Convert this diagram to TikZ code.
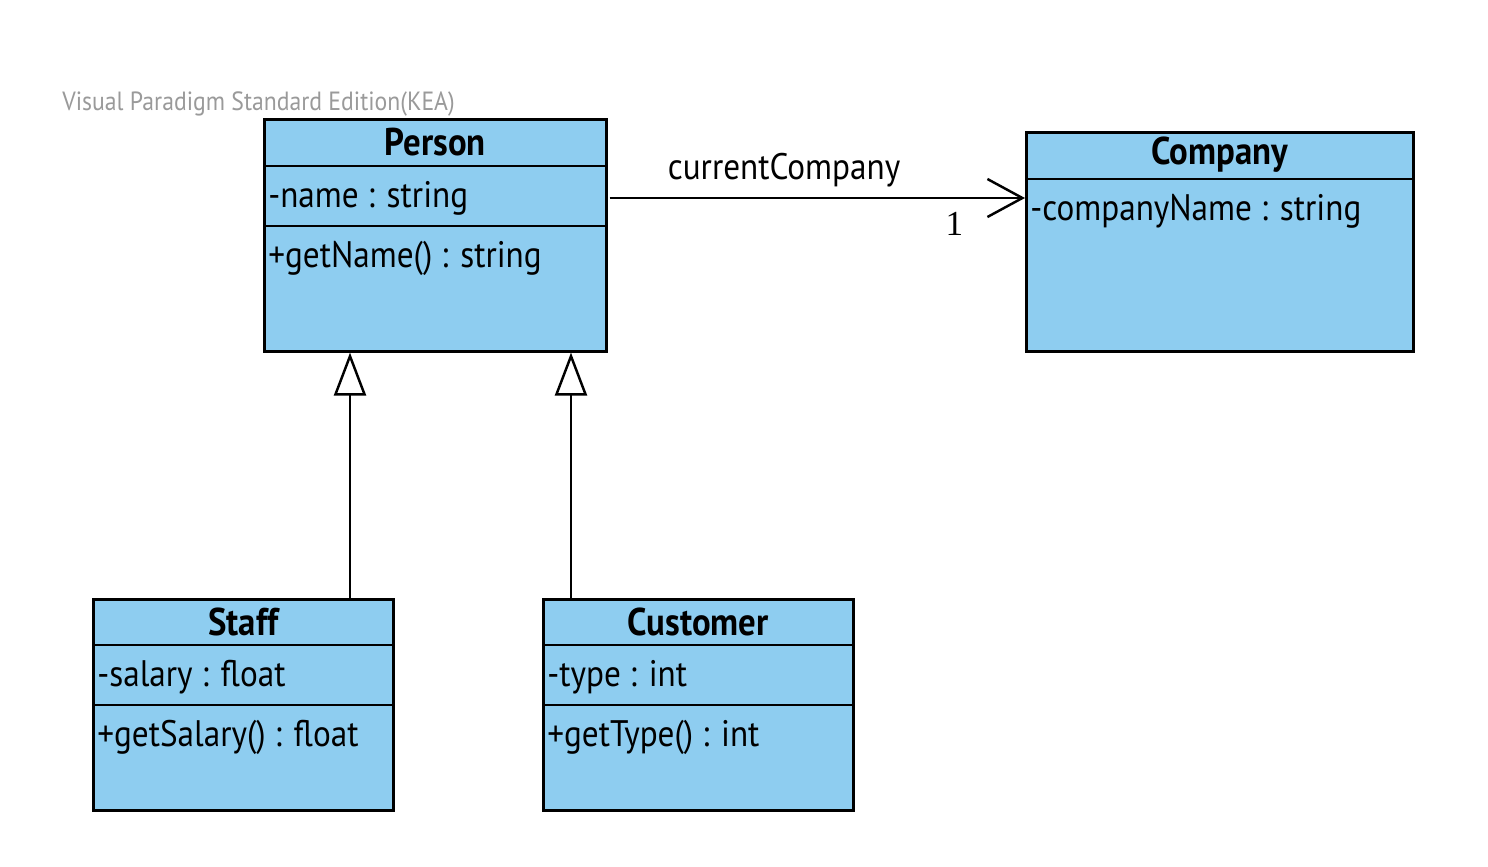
\documentclass[tikz,border=0pt]{standalone}
\usepackage{fontspec}
\setmainfont[FakeStretch=0.9]{PT Sans}
\newfontfamily\numfont{Liberation Serif}
\usetikzlibrary{arrows.meta, positioning, calc}
\definecolor{classfill}{HTML}{8ECDF0}
\definecolor{watermark}{HTML}{9A9A9A}
\tikzstyle{classbox} = [draw=black, line width=1.5pt, fill=classfill, anchor=north west, inner sep=0pt]
\tikzstyle{classname} = [font=\bfseries\fontsize{22}{24}\selectfont, text=black]
\tikzstyle{member} = [anchor=west, font=\fontsize{21}{23}\selectfont, text=black, inner sep=0pt]
\tikzstyle{divider} = [line width=1.5pt]
\tikzstyle{assoc} = [line width=1.4pt, -{Straight Barb[length=0.7cm, width=0.76cm, line width=1.4pt]}]
\tikzstyle{inherit} = [line width=1.2pt, -{Triangle[open, length=0.86cm, width=0.64cm, fill=white, line width=1.4pt]}]

\begin{document}
\begin{tikzpicture}[x=0.02cm, y=-0.02cm]
    \useasboundingbox[fill=white] (0,0) rectangle (1488,866);
    \node[anchor=west, font=\fontsize{15}{17}\selectfont, text=watermark, inner sep=0pt] (edition) at (62,104) {Visual Paradigm Standard Edition(KEA)};

    % Person
    \node[classbox, minimum width=6.84cm, minimum height=4.64cm] (person) at (263,118) {};
    \node[classname] (personname) at ($(person.north)+(0,24)$) {Person};
    \draw[divider] ($(person.north west)+(0,48)$) -- ($(person.north east)+(0,48)$);
    \draw[divider] ($(person.north west)+(0,108)$) -- ($(person.north east)+(0,108)$);
    \node[member] (personattr) at ($(person.north west)+(5,80)$) {-name : string};
    \node[member] (personop) at ($(person.north west)+(5,140)$) {+getName() : string};

    % Company
    \node[classbox, minimum width=7.74cm, minimum height=4.38cm] (company) at (1025,131) {};
    \node[classname] (companyname) at ($(company.north)+(0,24)$) {Company};
    \draw[divider] ($(company.north west)+(0,48)$) -- ($(company.north east)+(0,48)$);
    \node[member] (companyattr) at ($(company.north west)+(5,80)$) {-companyName : string};

    % Staff
    \node[classbox, minimum width=6cm, minimum height=4.22cm] (staff) at (92,598) {};
    \node[classname] (staffname) at ($(staff.north)+(0,24)$) {Staff};
    \draw[divider] ($(staff.north west)+(0,47)$) -- ($(staff.north east)+(0,47)$);
    \draw[divider] ($(staff.north west)+(0,107)$) -- ($(staff.north east)+(0,107)$);
    \node[member] (staffattr) at ($(staff.north west)+(5,79)$) {-salary : float};
    \node[member] (staffop) at ($(staff.north west)+(5,139)$) {+getSalary() : float};

    % Customer
    \node[classbox, minimum width=6.2cm, minimum height=4.22cm] (customer) at (542,598) {};
    \node[classname] (customername) at ($(customer.north)+(0,24)$) {Customer};
    \draw[divider] ($(customer.north west)+(0,47)$) -- ($(customer.north east)+(0,47)$);
    \draw[divider] ($(customer.north west)+(0,107)$) -- ($(customer.north east)+(0,107)$);
    \node[member] (customerattr) at ($(customer.north west)+(5,79)$) {-type : int};
    \node[member] (customerop) at ($(customer.north west)+(5,139)$) {+getType() : int};

    % association
    \coordinate (assocstart) at ($(person.north east)+(2,80)$);
    \draw[assoc] (assocstart) -- (assocstart -| company.west)
        node[pos=0.42, above=2pt, font=\fontsize{21}{23}\selectfont] (rolename) {currentCompany}
        node[pos=0.83, below=4pt, font=\numfont\fontsize{20}{22}\selectfont] (multiplicity) {1};

    % generalization
    \coordinate (staffup) at ($(staff.north west)+(258,0)$);
    \coordinate (customerup) at ($(customer.north west)+(29,0)$);
    \draw[inherit] (staffup) -- (staffup |- person.south);
    \draw[inherit] (customerup) -- (customerup |- person.south);
\end{tikzpicture}
\end{document}
